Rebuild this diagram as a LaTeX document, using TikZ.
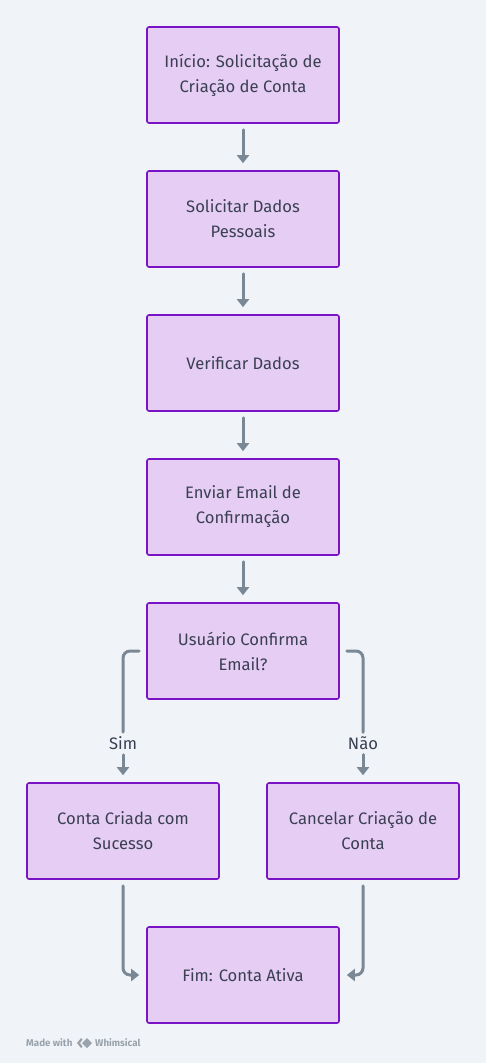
\documentclass[tikz,border=0pt]{standalone}
\usepackage{fontspec}
\setmainfont{Fira Sans}
\usetikzlibrary{arrows.meta,calc}
\definecolor{bg}{HTML}{F0F4F8}
\definecolor{boxfill}{HTML}{E5CDF4}
\definecolor{boxdraw}{HTML}{7A12C6}
\definecolor{arr}{HTML}{7A8896}
\definecolor{txt}{HTML}{3A3F52}
\definecolor{wm}{HTML}{9AA2AC}
\begin{document}
\begin{tikzpicture}[x=1pt,y=-1pt,
  stepbox/.style={draw=boxdraw,fill=boxfill,line width=1.6pt,rounded corners=2pt,
    minimum width=192pt,minimum height=96pt,align=center,text=txt,
    font=\fontsize{16.6}{25}\selectfont,inner sep=0pt},
  conn/.style={draw=arr,line width=3pt,line cap=round,rounded corners=7pt},
  tip/.style={-{Triangle[width=12pt,length=8pt]}},
  lbl/.style={text=txt,font=\fontsize{16.6}{18}\selectfont,inner sep=1pt}]
\fill[bg] (0,0) rectangle (486,1063);
\useasboundingbox (0,0) rectangle (486,1063);
\node[stepbox] (a) at (243,75) {Início: Solicitação de\\Criação de Conta};
\node[stepbox] (b) at (243,219) {Solicitar Dados\\Pessoais};
\node[stepbox] (c) at (243,363) {Verificar Dados};
\node[stepbox] (d) at (243,507) {Enviar Email de\\Confirmação};
\node[stepbox] (e) at (243,651) {Usuário Confirma\\Email?};
\node[stepbox] (f) at (123,831) {Conta Criada com\\Sucesso};
\node[stepbox] (g) at (363,831) {Cancelar Criação de\\Conta};
\node[stepbox] (h) at (243,975) {Fim: Conta Ativa};
\foreach \p/\q in {a/b,b/c,c/d,d/e}{
  \draw[conn,tip] ([yshift=-6pt]\p.south) -- ([yshift=7pt]\q.north);
}
\node[lbl] (sim) at (123,743) {Sim};
\node[lbl] (nao) at (363,743) {Não};
\draw[conn] ([xshift=-7pt]e.west) -| ([yshift=3pt]sim.north);
\draw[conn,tip] ([yshift=-4pt]sim.south) -- ([yshift=7pt]f.north);
\draw[conn] ([xshift=7pt]e.east) -| ([yshift=3pt]nao.north);
\draw[conn,tip] ([yshift=-4pt]nao.south) -- ([yshift=7pt]g.north);
\draw[conn,tip] ([yshift=-6pt]f.south) |- ([xshift=-7pt]h.west);
\draw[conn,tip] ([yshift=-6pt]g.south) |- ([xshift=7pt]h.east);
% watermark
\node[anchor=west,text=wm,font=\fontsize{9.8}{11}\selectfont\bfseries,inner sep=0pt] (made) at (26,1043) {Made with};
\coordinate (lg) at (85,1043);
\fill[wm] ($(lg)+(-8,0)$) -- ($(lg)+(-4,-5)$) -- ($(lg)+(-2.5,-3.5)$) -- ($(lg)+(-5,0)$) -- ($(lg)+(-2.5,3.5)$) -- ($(lg)+(-4,5)$) -- cycle;
\fill[wm] ($(lg)+(-3,0)$) -- ($(lg)+(2,-5)$) -- ($(lg)+(7,0)$) -- ($(lg)+(2,5)$) -- cycle;
\node[anchor=west,text=wm,font=\fontsize{9.8}{11}\selectfont\bfseries,inner sep=0pt] (whim) at (95,1043) {Whimsical};
\end{tikzpicture}
\end{document}
